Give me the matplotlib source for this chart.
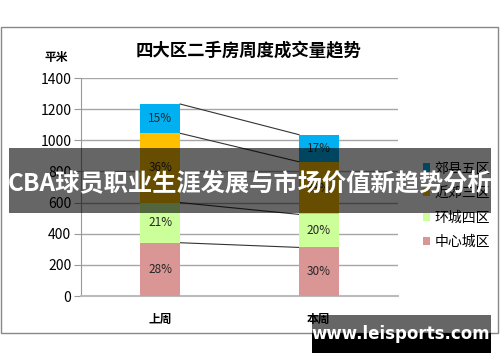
import matplotlib
matplotlib.use("Agg")
import matplotlib.pyplot as plt
from matplotlib.patches import Rectangle, Patch
import numpy as np

plt.rcParams['font.family'] = ['Noto Sans CJK SC', 'DejaVu Sans']

categories = ['上周', '本周']
series_names = ['中心城区', '环城四区', '近郊三区', '郊县五区']
series_colors = ['#DA9694', '#CCFF99', '#FFC000', '#00B0F0']
center_vals = [342, 312]
ring_vals = [258, 212]
near_vals = [445, 338]
county_vals = [188, 174]
y_ticks = [0, 200, 400, 600, 800, 1000, 1200, 1400]
title = '四大区二手房周度成交量趋势'
unit = '平米'
banner = 'CBA球员职业生涯发展与市场价值新趋势分析'
watermark = 'www.leisports.com'

W, H = 500, 362
fig = plt.figure(figsize=(W / 100, H / 100), dpi=100)
def fx(px): return px / W
def fy(py): return 1 - py / H

# chart frame
fig.patches.append(Rectangle((fx(1), fy(333)), fx(497), (333 - 27) / H, transform=fig.transFigure,
                             fill=False, edgecolor='#888888', lw=1.0, zorder=0))

ax = fig.add_axes([fx(81), fy(296), fx(398) - fx(81), (296 - 78) / H])
x = np.arange(len(categories))
data = [center_vals, ring_vals, near_vals, county_vals]
width = 0.25
bottom = np.zeros(len(categories))
tops = []
totals = np.sum(data, axis=0)
for vals, col in zip(data, series_colors):
    vals = np.array(vals, dtype=float)
    ax.bar(x, vals, width, bottom=bottom, color=col, zorder=3)
    for xi, v, b, t in zip(x, vals, bottom, totals):
        ax.text(xi, b + v / 2, f'{v / t * 100:.0f}%', ha='center', va='center', fontsize=8.5,
                color='#262626', zorder=4)
    bottom = bottom + vals
    tops.append(bottom.copy())
for t in tops:
    ax.plot([x[0] + width / 2, x[1] - width / 2], [t[0], t[1]], color='#333333', lw=0.8, zorder=2)

ax.set_xlim(-0.5, 1.5)
ax.set_ylim(0, 1400)
ax.set_yticks(y_ticks)
ax.set_yticklabels([str(v) for v in y_ticks], fontsize=10)
ax.set_xticks(x)
ax.set_xticklabels(categories, fontsize=8.5, fontweight='bold')
ax.tick_params(axis='x', length=0, pad=12)
ax.tick_params(axis='y', length=5, color='#999999', pad=2)
ax.grid(axis='y', color='#A6A6A6', lw=1.0, zorder=0)
for s in ['top', 'right']:
    ax.spines[s].set_visible(False)
ax.spines['left'].set_color('#999999')
ax.spines['bottom'].set_color('#BBBBBB')
ax.spines['bottom'].set_linewidth(1.5)

fig.text(fx(249), fy(50), title, ha='center', va='center', fontsize=12.5, fontweight='bold', color='#000000')
fig.text(fx(56), fy(57), unit, ha='center', va='center', fontsize=8.5, fontweight='bold')

handles = [Patch(facecolor=c) for c in series_colors][::-1]
labels = series_names[::-1]
leg = fig.legend(handles, labels, loc='upper left', bbox_to_anchor=(fx(410), fy(149)), frameon=False,
                 fontsize=10, handlelength=0.55, handleheight=0.55, handletextpad=0.3, labelspacing=0.76)

# banner overlay
fig.patches.append(Rectangle((fx(9), fy(213)), fx(491 - 9), (213 - 148) / H, transform=fig.transFigure,
                             facecolor='black', alpha=0.6, edgecolor='none', zorder=10))
fig.text(fx(250), fy(184), banner, ha='center', va='center', fontsize=17.5, fontweight='bold',
         color='white', zorder=11)

# watermark
fig.patches.append(Rectangle((fx(312), fy(333)), fx(491 - 312), (333 - 315) / H, transform=fig.transFigure,
                             facecolor='black', alpha=0.6, edgecolor='none', zorder=10))
fig.patches.append(Rectangle((fx(312), fy(353)), fx(491 - 312), (353 - 333) / H, transform=fig.transFigure,
                             facecolor='black', edgecolor='none', zorder=10))
fig.text(fx(401), fy(334), watermark, ha='center', va='center', fontsize=12, fontweight='bold',
         color='white', zorder=11, family='DejaVu Sans')

fig.savefig('out.png', dpi=100)
